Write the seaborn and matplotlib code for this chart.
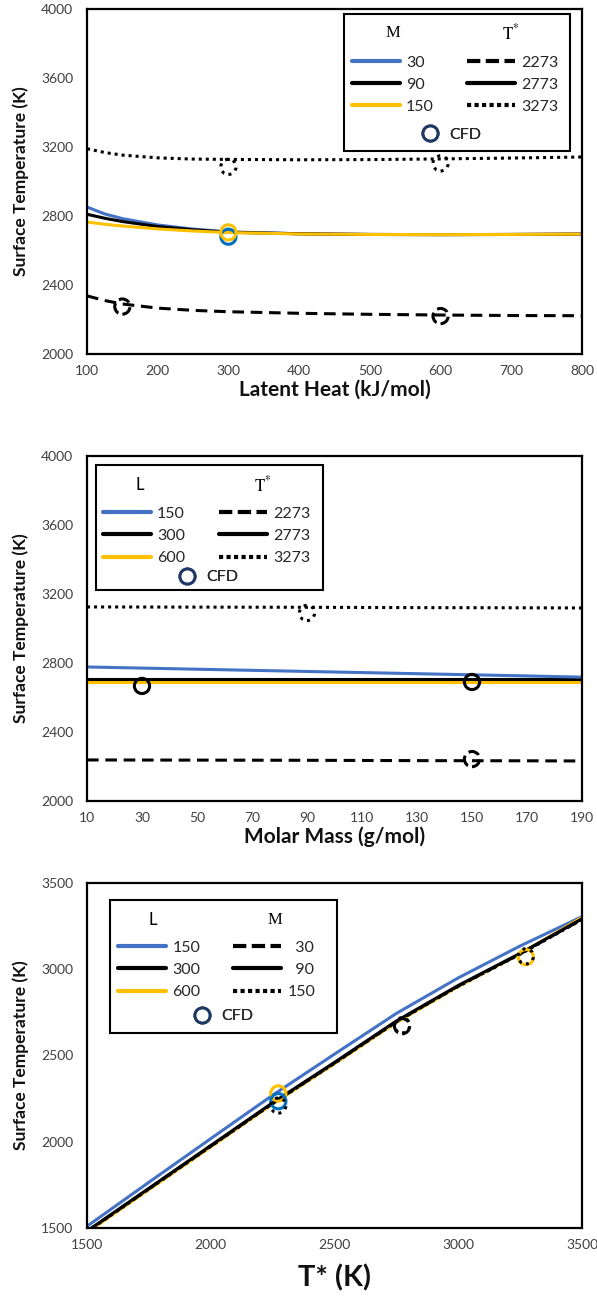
import matplotlib
matplotlib.use("Agg")
import matplotlib.pyplot as plt
import seaborn as sns
from matplotlib.lines import Line2D
from matplotlib.patches import Rectangle

# ---------------- data ----------------
# Panel 1: surface temperature vs latent heat
latent_heat = [100, 125, 150, 200, 250, 300, 400, 500, 600, 700, 800]
p1_m30 = [2852, 2812, 2785, 2748, 2724, 2708, 2697, 2693, 2692, 2693, 2695]
p1_m90 = [2810, 2787, 2768, 2739, 2720, 2706, 2697, 2693, 2692, 2693, 2695]
p1_m150 = [2765, 2752, 2742, 2725, 2713, 2704, 2696, 2693, 2692, 2693, 2695]
p1_t2273 = [2337, 2310, 2290, 2266, 2253, 2245, 2236, 2230, 2226, 2223, 2222]
p1_t3273 = [3190, 3168, 3153, 3137, 3130, 3128, 3126, 3127, 3131, 3136, 3142]
p1_cfd_solid_L = [300, 300]
p1_cfd_solid_T = [2680, 2705]
p1_cfd_dash_L = [150, 600]
p1_cfd_dash_T = [2275, 2220]
p1_cfd_dot_L = [300, 600]
p1_cfd_dot_T = [3085, 3105]

# Panel 2: surface temperature vs molar mass
molar_mass = [10, 50, 90, 130, 170, 190]
p2_l150 = [2777, 2764, 2751, 2738, 2725, 2718]
p2_l300 = [2707, 2707, 2707, 2707, 2707, 2707]
p2_l600 = [2691, 2691, 2691, 2691, 2691, 2691]
p2_t2273 = [2238, 2237, 2236, 2234, 2233, 2232]
p2_t3273 = [3125, 3124, 3123, 3121, 3120, 3119]
p2_cfd_solid_M = [30, 150]
p2_cfd_solid_T = [2667, 2690]
p2_cfd_dash_M = [150]
p2_cfd_dash_T = [2243]
p2_cfd_dot_M = [90]
p2_cfd_dot_T = [3090]

# Panel 3: surface temperature vs T*
t_star = [1500, 1750, 2000, 2250, 2500, 2750, 3000, 3250, 3500]
p3_l150 = [1510, 1765, 2018, 2270, 2508, 2744, 2950, 3135, 3305]
p3_l300 = [1482, 1730, 1978, 2226, 2460, 2700, 2906, 3092, 3292]
p3_l600 = [1474, 1722, 1970, 2219, 2452, 2692, 2900, 3090, 3300]
p3_m30 = [1480, 1728, 1975, 2223, 2457, 2697, 2903, 3089, 3290]
p3_m150 = [1478, 1726, 1973, 2221, 2455, 2695, 2901, 3087, 3288]
p3_cfd_blue_T = [2273]
p3_cfd_blue_S = [2235]
p3_cfd_gold_T = [2273, 3273]
p3_cfd_gold_S = [2280, 3070]
p3_cfd_dash_T = [2773]
p3_cfd_dash_S = [2670]
p3_cfd_dot_T = [2273, 2773, 3273]
p3_cfd_dot_S = [2210, 2675, 3075]

# ---------------- style ----------------
sns.set_theme(style="white")
plt.rcParams["font.family"] = ["Lato", "DejaVu Sans"]
plt.rcParams["mathtext.fontset"] = "stix"

BLUE = "#4472C4"
GOLD = "#FFC000"
BLACK = "#000000"
CFD_BLUE = "#0070C0"
NAVY = "#1F3864"
TICK_C = "#404040"
LW = 2.2
DASH = (0, (3.8, 2.2))
DOT = (0, (1.0, 1.3))
MS = 120

W, H = 597, 1304
fig = plt.figure(figsize=(W / 100, H / 100), dpi=100)
axes = []
for top, bot in [(9, 354), (456, 801), (883, 1228)]:
    axes.append(fig.add_axes([87 / W, 1 - bot / H, 495 / W, (bot - top) / H]))
ax1, ax2, ax3 = axes


def line(ax, x, y, color, ls="-", lw=LW):
    sns.lineplot(x=x, y=y, ax=ax, color=color, linestyle=ls, linewidth=lw,
                 legend=False, estimator=None, sort=True)
    ax.lines[-1].set_dash_capstyle("butt")


def cfd(ax, x, y, color, ls="-"):
    sns.scatterplot(x=x, y=y, ax=ax, s=MS, facecolor="none", edgecolor=color,
                    linewidth=2.2, linestyle=ls, legend=False, zorder=5)


def style_axes(ax, xlim, ylim, xticks, yticks, xlabel, xlabel_size, xlabel_y):
    ax.set_xlim(*xlim)
    ax.set_ylim(*ylim)
    ax.set_xticks(xticks)
    ax.set_yticks(yticks)
    for s in ax.spines.values():
        s.set_color("black")
        s.set_linewidth(1.6)
        s.set_visible(True)
    ax.tick_params(direction="in", length=4, width=1.3, color="black",
                   labelsize=10, labelcolor=TICK_C)
    ax.tick_params(axis="y", pad=10)
    ax.tick_params(axis="x", pad=8)
    ax.set_xlabel(xlabel, fontsize=xlabel_size, fontweight="bold", color="#111111")
    ax.set_ylabel("Surface Temperature (K)", fontsize=12.5, fontweight="bold",
                  color="#111111")
    ax.xaxis.set_label_coords(0.5, xlabel_y)
    ax.yaxis.set_label_coords(-0.117, 0.5)
    ax.grid(False)


def legend_box(ax, box, headers, col1, col2, cfd_xy, row1_top):
    (bx, by, bw, bh) = box
    ax.add_patch(Rectangle((bx, by), bw, bh, transform=ax.transAxes, fill=False,
                           edgecolor="black", linewidth=1.5, zorder=10))
    for (txt, hx, hy, fam) in headers:
        ax.text(hx, hy, txt, transform=ax.transAxes, ha="center", va="center",
                fontsize=12, family=fam, color="black", zorder=11)
    for (x0, entries) in (col1, col2):
        handles = [Line2D([0], [0], color=c, linestyle=ls, linewidth=3.0,
                          dash_capstyle="butt") for (c, ls, _) in entries]
        labels = [lab for (_, _, lab) in entries]
        leg = ax.legend(handles, labels, loc="upper left",
                        bbox_to_anchor=(x0, row1_top), bbox_transform=ax.transAxes,
                        frameon=False, fontsize=11.5, handlelength=3.0,
                        handletextpad=0.4, labelspacing=0.5, borderpad=0,
                        borderaxespad=0)
        ax.add_artist(leg)
    mk = Line2D([0], [0], linestyle="none", marker="o", markersize=11,
                markerfacecolor="none", markeredgecolor=NAVY, markeredgewidth=2)
    leg = ax.legend([mk], ["CFD"], loc="center", bbox_to_anchor=cfd_xy,
                    bbox_transform=ax.transAxes, frameon=False, fontsize=11.5,
                    handlelength=1.2, handletextpad=0.6, borderpad=0, borderaxespad=0)
    ax.add_artist(leg)


TSTAR = r"$\mathrm{T}^{*}$"
LH_DASH = (0, (3.2, 1.3))
LH_DOT = (0, (1.0, 0.8))

# ---------------- panel 1 ----------------
line(ax1, latent_heat, p1_t3273, BLACK, DOT)
line(ax1, latent_heat, p1_t2273, BLACK, DASH)
line(ax1, latent_heat, p1_m30, BLUE)
line(ax1, latent_heat, p1_m90, BLACK)
line(ax1, latent_heat, p1_m150, GOLD)
cfd(ax1, p1_cfd_solid_L[:1], p1_cfd_solid_T[:1], CFD_BLUE)
cfd(ax1, p1_cfd_solid_L[1:], p1_cfd_solid_T[1:], GOLD)
cfd(ax1, p1_cfd_dash_L, p1_cfd_dash_T, BLACK, "--")
cfd(ax1, p1_cfd_dot_L, p1_cfd_dot_T, BLACK, ":")
style_axes(ax1, (100, 800), (2000, 4000), range(100, 801, 100),
           range(2000, 4001, 400), "Latent Heat (kJ/mol)", 15, -0.073)
legend_box(ax1, (0.519, 0.588, 0.457, 0.398),
           [("M", 0.618, 0.930, "Liberation Serif"),
            (TSTAR, 0.855, 0.930, "Liberation Serif")],
           (0.535, [(BLUE, "-", "30"), (BLACK, "-", "90"), (GOLD, "-", "150")]),
           (0.768, [(BLACK, LH_DASH, "2273"), (BLACK, "-", "2773"),
                    (BLACK, LH_DOT, "3273")]),
           (0.735, 0.635), 0.865)

# ---------------- panel 2 ----------------
line(ax2, molar_mass, p2_t3273, BLACK, DOT)
line(ax2, molar_mass, p2_t2273, BLACK, DASH)
line(ax2, molar_mass, p2_l600, GOLD)
line(ax2, molar_mass, p2_l300, BLACK)
line(ax2, molar_mass, p2_l150, BLUE)
cfd(ax2, p2_cfd_solid_M, p2_cfd_solid_T, BLACK)
cfd(ax2, p2_cfd_dash_M, p2_cfd_dash_T, BLACK, "--")
cfd(ax2, p2_cfd_dot_M, p2_cfd_dot_T, BLACK, ":")
style_axes(ax2, (10, 190), (2000, 4000), range(10, 191, 20),
           range(2000, 4001, 400), "Molar Mass (g/mol)", 15, -0.073)
legend_box(ax2, (0.018, 0.612, 0.459, 0.362),
           [("L", 0.107, 0.916, "Lato"),
            (TSTAR, 0.354, 0.916, "Liberation Serif")],
           (0.032, [(BLUE, "-", "150"), (BLACK, "-", "300"), (GOLD, "-", "600")]),
           (0.267, [(BLACK, LH_DASH, "2273"), (BLACK, "-", "2773"),
                    (BLACK, LH_DOT, "3273")]),
           (0.244, 0.649), 0.853)

# ---------------- panel 3 ----------------
line(ax3, t_star, p3_l150, BLUE)
line(ax3, t_star, p3_l600, GOLD)
line(ax3, t_star, p3_l300, BLACK)
line(ax3, t_star, p3_m30, BLACK, DASH)
line(ax3, t_star, p3_m150, BLACK, DOT)
cfd(ax3, p3_cfd_gold_T, p3_cfd_gold_S, GOLD)
cfd(ax3, p3_cfd_blue_T, p3_cfd_blue_S, CFD_BLUE)
cfd(ax3, p3_cfd_dash_T, p3_cfd_dash_S, BLACK, "--")
cfd(ax3, p3_cfd_dot_T, p3_cfd_dot_S, BLACK, ":")
style_axes(ax3, (1500, 3500), (1500, 3500), range(1500, 3501, 500),
           range(1500, 3501, 500), "T* (K)", 21, -0.105)
legend_box(ax3, (0.046, 0.565, 0.459, 0.386),
           [("L", 0.133, 0.893, "Lato"),
            ("M", 0.380, 0.893, "Liberation Serif")],
           (0.063, [(BLUE, "-", "150"), (BLACK, "-", "300"), (GOLD, "-", "600")]),
           (0.295, [(BLACK, LH_DASH, "  30"), (BLACK, "-", "  90"),
                    (BLACK, LH_DOT, "150")]),
           (0.275, 0.614), 0.833)

fig.savefig("out.png", dpi=100, facecolor="white")
